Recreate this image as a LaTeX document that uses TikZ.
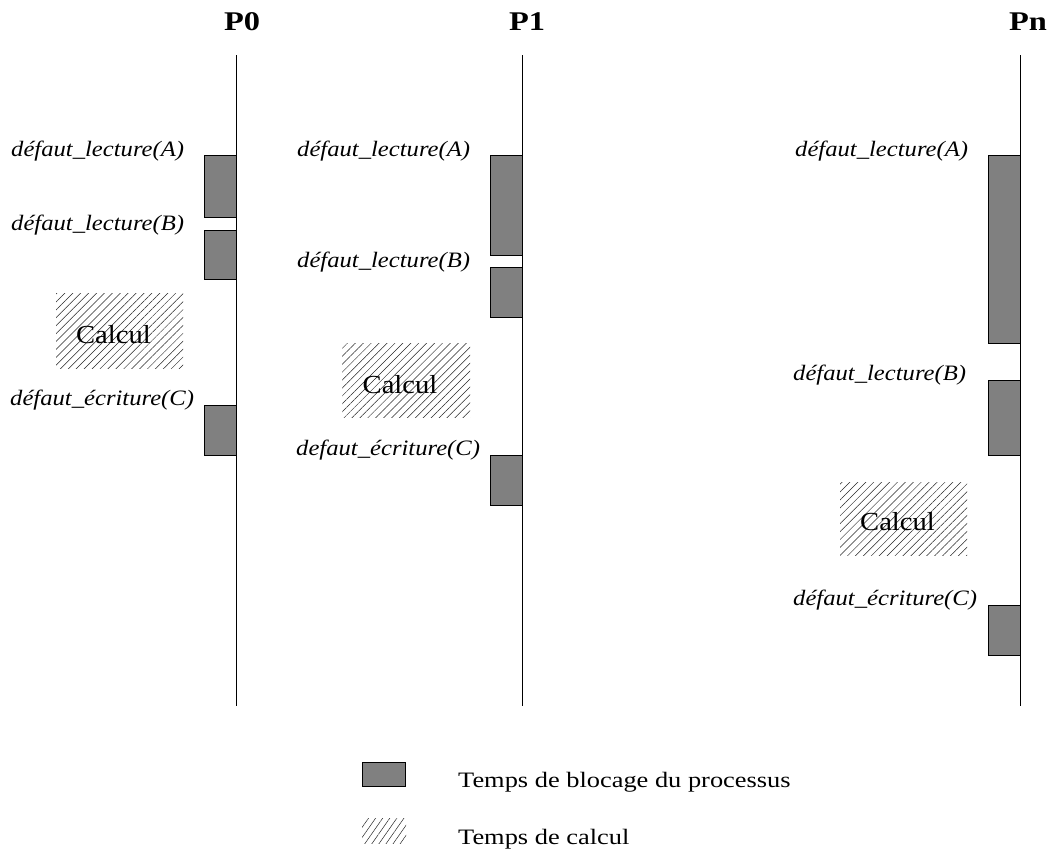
\documentclass[tikz,border=0pt]{standalone}
\usepackage{fontspec}
\setmainfont{Liberation Serif}
\newfontfamily\widefont{Liberation Serif}[FakeStretch=1.2]
\newfontfamily\faultfont{Liberation Serif}[FakeStretch=1.12]
\newfontfamily\calcfont{Liberation Serif}[FakeStretch=1.1]
\usetikzlibrary{patterns.meta}

\tikzset{
  axis/.style={line width=0.9pt},
  blocked/.style={draw=black, fill=black!50, line width=0.8pt, rectangle,
                  inner sep=0pt, minimum width=32pt},
  hatched/.style={pattern={Lines[angle=45,distance=5.6pt,line width=0.5pt]},
                  pattern color=black!85},
  keyhatched/.style={pattern={Lines[angle=55,distance=5.8pt,line width=0.5pt]},
                     pattern color=black!85},
  fault/.style={anchor=base west, inner sep=0pt,
                font=\faultfont\fontsize{22}{26}\selectfont\itshape},
  proc/.style={anchor=base, inner sep=0pt,
               font=\widefont\fontsize{27}{31}\selectfont\bfseries},
  calc/.style={anchor=base, inner sep=0pt,
               font=\calcfont\fontsize{26}{30}\selectfont},
  legend/.style={anchor=base west, inner sep=0pt,
                 font=\widefont\fontsize{22}{26}\selectfont},
}

\begin{document}
\begin{tikzpicture}[x=1pt, y=-1pt]
  \useasboundingbox[fill=white] (0,0) rectangle (1049,849);

  % process time lines
  \foreach \n/\x in {0/236, 1/522, n/1020} {
    \coordinate (top\n) at (\x,55);
    \coordinate (bot\n) at (\x,706);
    \draw[axis] (top\n) -- (bot\n);
  }

  % process names
  \node[proc] (nameP0) at (242,30) {P0};
  \node[proc] (nameP1) at (527,30) {P1};
  \node[proc] (namePn) at (1028,30) {Pn};

  % ---- P0 ----
  \node[blocked, minimum height=62pt] (p0a) at (220,186) {};
  \node[blocked, minimum height=49pt] (p0b) at (220,254.5) {};
  \node[blocked, minimum height=50pt] (p0c) at (220,430) {};
  \node[fault] (l0a) at (11,156) {défaut\_lecture(A)};
  \node[fault] (l0b) at (11,230) {défaut\_lecture(B)};
  \node[fault] (l0c) at (10,405) {défaut\_écriture(C)};
  \fill[hatched] (56,293) rectangle (183,368);
  \node[calc] (c0) at (113.5,343) {Calcul};

  % ---- P1 ----
  \node[blocked, minimum height=100pt] (p1a) at (506,205) {};
  \node[blocked, minimum height=50pt] (p1b) at (506,292) {};
  \node[blocked, minimum height=50pt] (p1c) at (506,480) {};
  \node[fault] (l1a) at (297,156) {défaut\_lecture(A)};
  \node[fault] (l1b) at (297,267) {défaut\_lecture(B)};
  \node[fault] (l1c) at (296,455) {defaut\_écriture(C)};
  \fill[hatched] (342,343) rectangle (470,417);
  \node[calc] (c1) at (400,393) {Calcul};

  % ---- Pn ----
  \node[blocked, minimum height=188pt] (pna) at (1004,249) {};
  \node[blocked, minimum height=75pt] (pnb) at (1004,417.5) {};
  \node[blocked, minimum height=50pt] (pnc) at (1004,630.5) {};
  \node[fault] (lna) at (795,156) {défaut\_lecture(A)};
  \node[fault] (lnb) at (793,380) {défaut\_lecture(B)};
  \node[fault] (lnc) at (793,605) {défaut\_écriture(C)};
  \fill[hatched] (840,482) rectangle (967,555);
  \node[calc] (cn) at (897.5,530) {Calcul};

  % legend
  \node[blocked, minimum width=43pt, minimum height=24pt] (keyblock) at (384,774.5) {};
  \node[legend] (keyblocktext) at (458,787) {Temps de blocage du processus};
  \fill[keyhatched] (362,818) rectangle (406,843);
  \node[legend] (keycalctext) at (458,844) {Temps de calcul};
\end{tikzpicture}
\end{document}
